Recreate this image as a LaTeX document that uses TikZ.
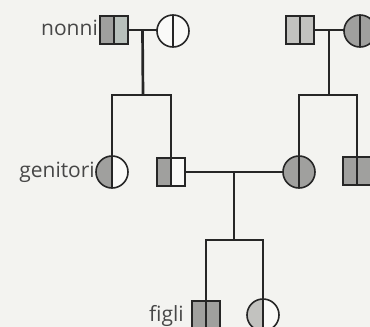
\documentclass[tikz,border=0pt]{standalone}
\usepackage{fontspec}
\setmainfont{Open Sans}
\usetikzlibrary{calc}
\definecolor{bg}{HTML}{F3F3F0}
\definecolor{ink}{HTML}{262626}
\definecolor{shd}{HTML}{A0A09E}
\definecolor{shg}{HTML}{B8C0BB}
\definecolor{shl}{HTML}{C2C2BF}
\definecolor{wh}{HTML}{FAFAF8}
\begin{document}
\begin{tikzpicture}[x=1pt,y=-1pt,
  ind/.style={draw=ink, line width=1.6pt, inner sep=0pt, outer sep=0pt},
  male/.style={ind, rectangle, minimum size=28pt},
  female/.style={ind, circle, minimum size=32pt},
  sym/.style 2 args={path picture={
      \fill[#1] (path picture bounding box.south west) rectangle (path picture bounding box.north);
      \fill[#2] (path picture bounding box.north) rectangle (path picture bounding box.south east);
      \draw[ink, line width=1.6pt] (path picture bounding box.north) -- (path picture bounding box.south);}},
  conn/.style={draw=ink, line width=2.7pt},
  lbl/.style={font=\fontsize{21}{25}\selectfont, text=ink!85, inner sep=0pt}]
\fill[bg] (0,0) rectangle (370,327);
\useasboundingbox (0,0) rectangle (370,327);

% grandparents
\node[male, sym={shd}{shg}] (gf1) at (114,30) {};
\node[female, sym={wh}{wh}] (gm1) at (173,31) {};
\node[male, sym={shl}{shl}] (gf2) at (300,30) {};
\node[female, sym={shd}{shd}] (gm2) at (360,31) {};
% parents generation
\node[female, sym={shd}{wh}] (aunt) at (112,172) {};
\node[male, sym={shd}{wh}] (dad) at (171,172) {};
\node[female, sym={shd}{shd}] (mum) at (299,172) {};
\node[male, sym={shd}{shd}] (uncle) at (357,171) {};
% children
\node[male, sym={shd}{shd}] (son) at (206,315) {};
\node[female, sym={shl}{wh}] (dau) at (263,315) {};

% labels
\node[lbl, anchor=east] (tnonni) at ($(gf1.west)+(-2,-2)$) {nonni};
\node[lbl, anchor=east] (tgen) at ($(aunt.west)+(-1,0)$) {genitori};
\node[lbl, anchor=east] (tfigli) at ($(son.west)+(-8,1)$) {figli};

% couples and sibships
\draw[conn] (gf1.east) -- (gm1.west |- gf1.east);
\coordinate (m1) at ($(gf1.east)!0.5!(gm1.west |- gf1.east)$);
\coordinate (s1) at (143,95);
\draw[conn] (m1) -- (s1);
\draw[conn] (aunt.north) |- (s1) -| (dad.north);

\draw[conn] (gf2.east) -- (gm2.west |- gf2.east);
\coordinate (m2) at ($(gf2.east)!0.5!(gm2.west |- gf2.east)$);
\coordinate (s2) at ($(m2)+(0,65)$);
\draw[conn] (m2) -- (s2);
\draw[conn] (mum.north) |- (s2) -| (uncle.north);

\draw[conn] (dad.east) -- (mum.west |- dad.east);
\coordinate (m3) at ($(dad.east)!0.5!(mum.west |- dad.east)$);
\coordinate (s3) at ($(m3)+(0,68)$);
\draw[conn] (m3) -- (s3);
\draw[conn] (son.north) |- (s3) -| (dau.north);
\end{tikzpicture}
\end{document}
